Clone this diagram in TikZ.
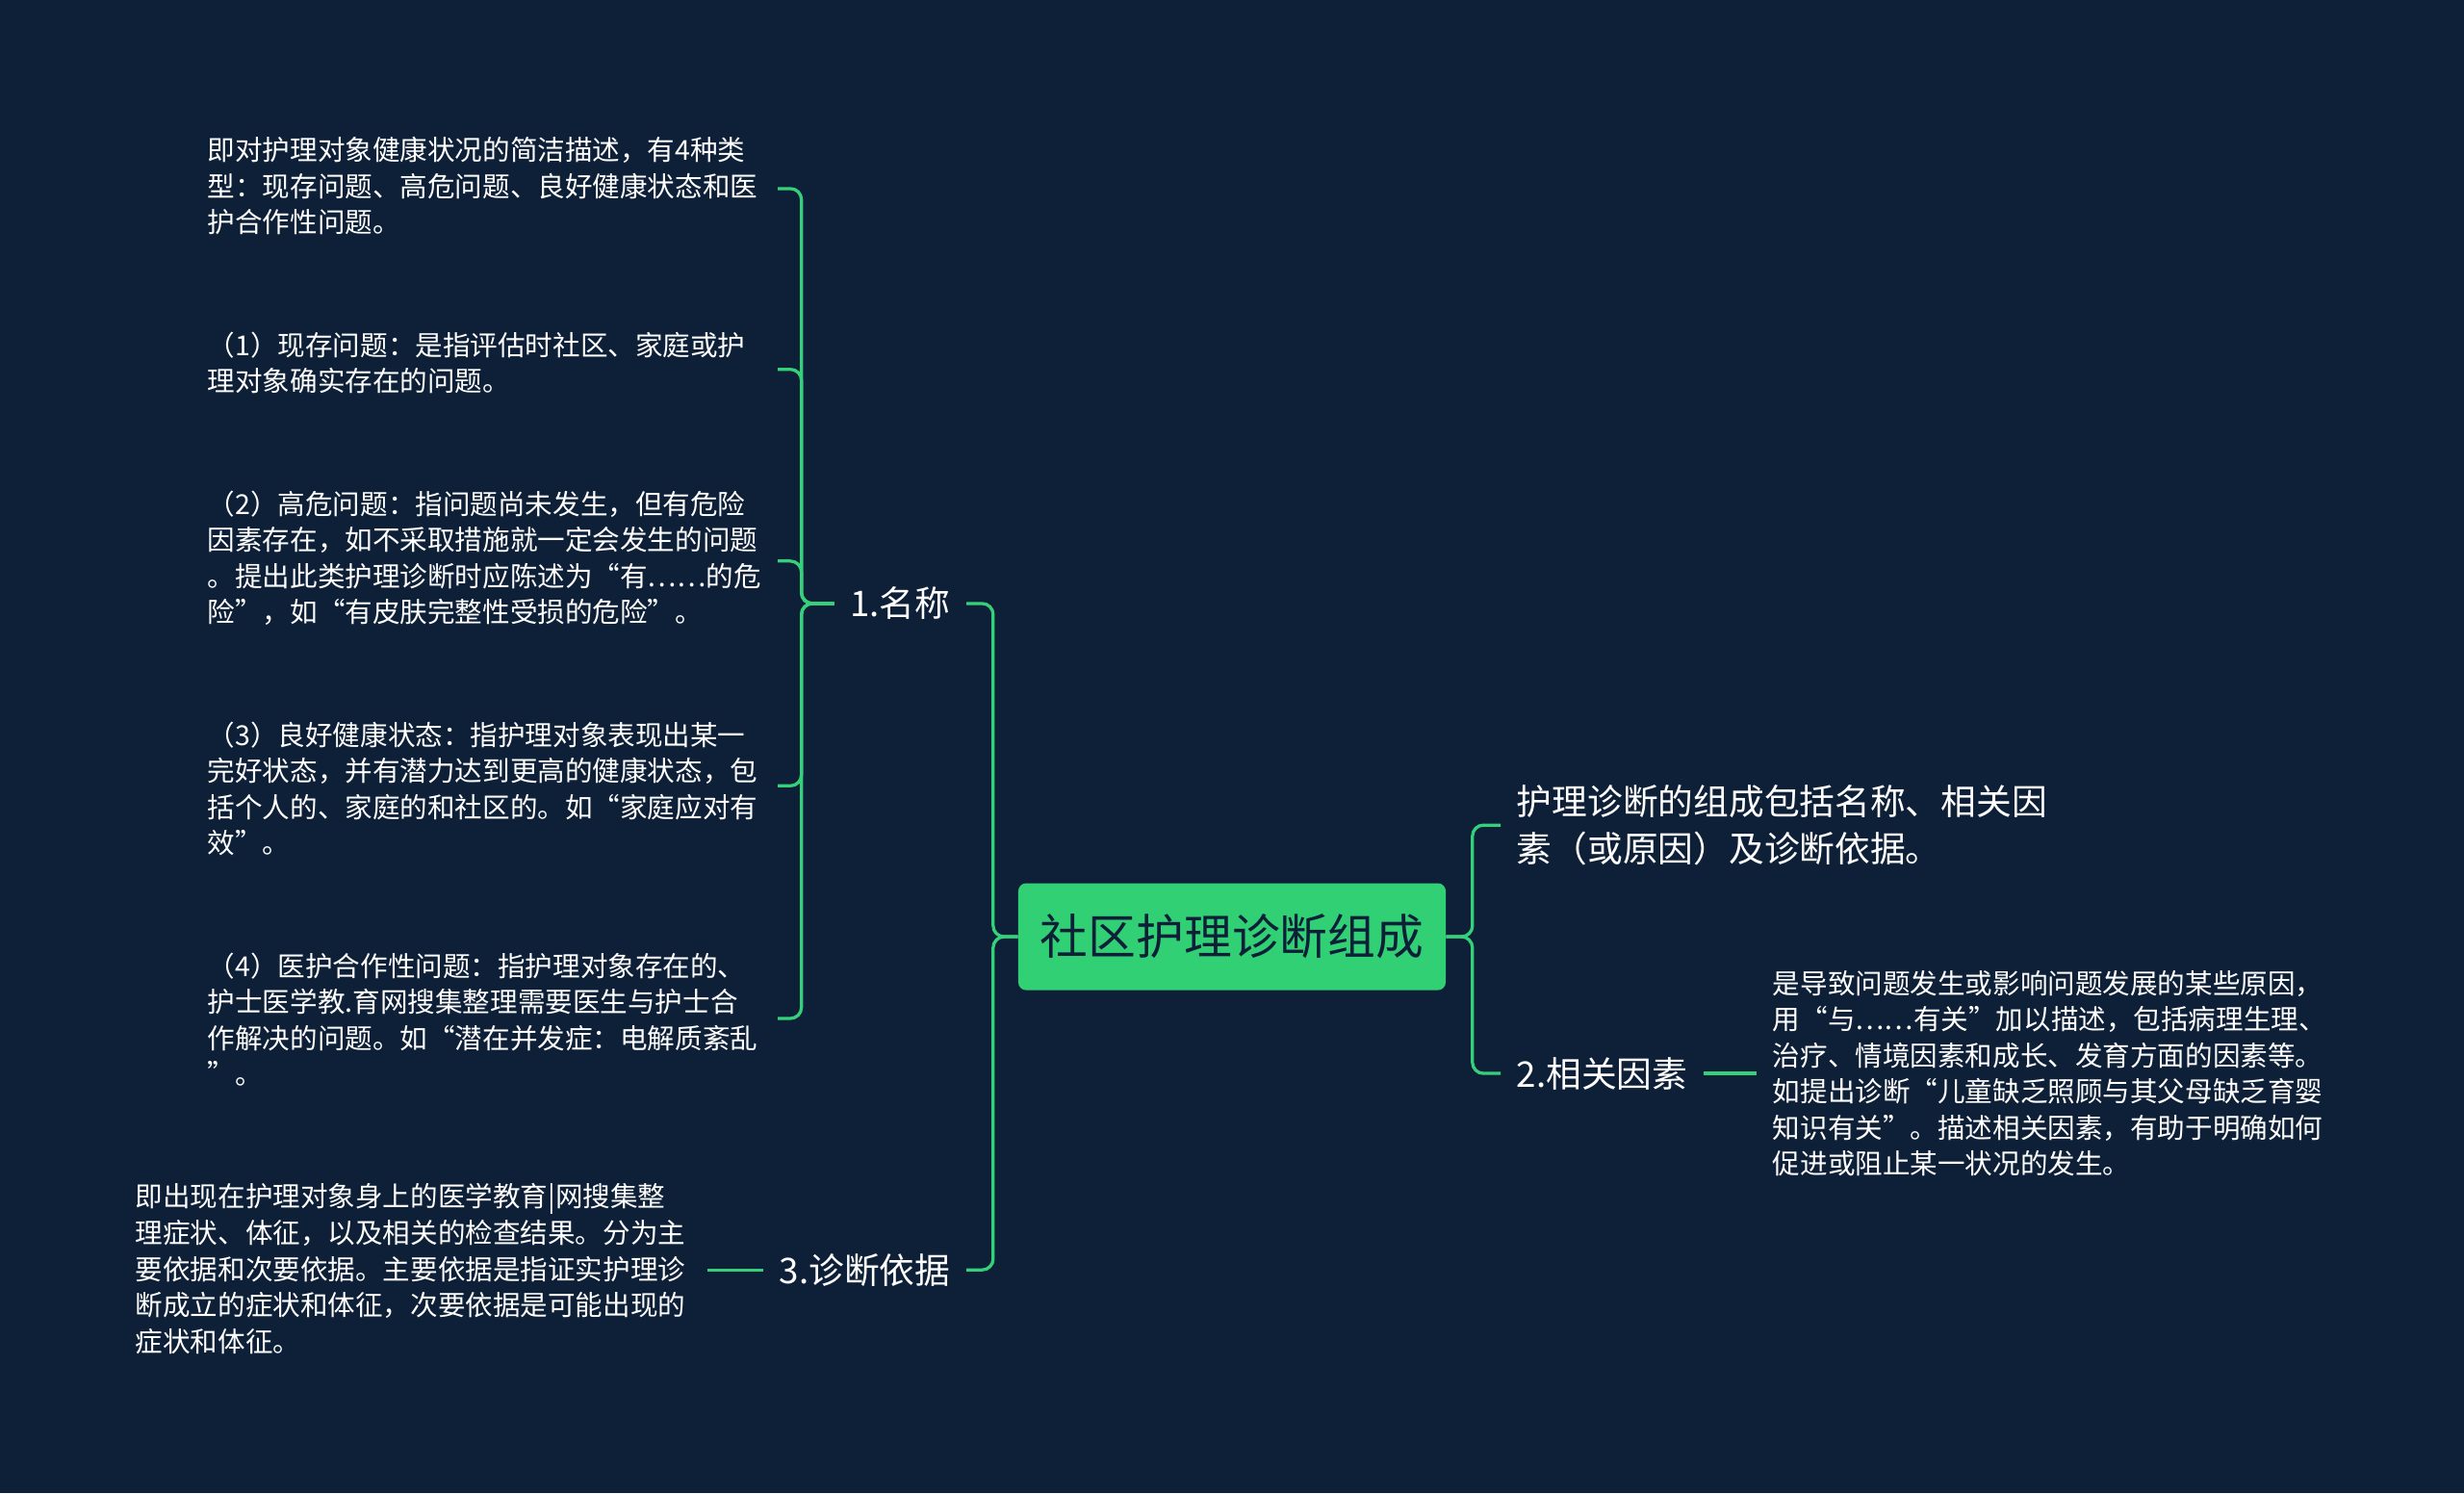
\documentclass[tikz,border=0pt]{standalone}
\usepackage{fontspec}
\setmainfont{Noto Sans CJK SC}
\begin{document}
\begin{tikzpicture}[x=1pt,y=-1pt,
  ln/.style={draw=lc,line width=2pt,rounded corners=7pt},
  small/.style={text=white,anchor=north west,inner sep=0pt,align=left,font=\fontsize{17.5}{23}\selectfont},
  big/.style={text=white,inner ysep=0pt,inner xsep=10pt,align=left,font=\fontsize{22.5}{30}\selectfont}]
\definecolor{bgc}{HTML}{0E2038}
\definecolor{lc}{HTML}{35D07A}
\definecolor{ctr}{HTML}{31D075}
\fill[bgc] (0,0) rectangle (1568,950);
\useasboundingbox (0,0) rectangle (1568,950);
\node[fill=ctr,rounded corners=5pt,minimum width=272pt,minimum height=68pt,inner sep=0pt,text=bgc,font=\fontsize{30.5}{32}\selectfont] (c) at (784,596) {社区护理诊断组成};
% right
\node[big,anchor=west] (r1) at (955,525) {护理诊断的组成包括名称、相关因\\素（或原因）及诊断依据。};
\node[big,anchor=west] (r2) at (955,683) {2.相关因素};
\node[small,anchor=west] (r2d) at (1128,683) {是导致问题发生或影响问题发展的某些原因，\\用“与……有关”加以描述，包括病理生理、\\治疗、情境因素和成长、发育方面的因素等。\\如提出诊断“儿童缺乏照顾与其父母缺乏育婴\\知识有关”。描述相关因素，有助于明确如何\\促进或阻止某一状况的发生。};
\draw[ln] (c.east) -- (937,596) |- (r1.west);
\draw[ln] (c.east) -- (937,596) |- (r2.west);
\draw[ln] (r2.east) -- (1118,683);
% left
\node[big,anchor=east] (l1) at (615,384) {1.名称};
\node[big,anchor=east] (l3) at (615,808) {3.诊断依据};
\draw[ln] (c.west) -- (632,596) |- (l1.east);
\draw[ln] (c.west) -- (632,596) |- (l3.east);
\node[small] (a1) at (132,87) {即对护理对象健康状况的简洁描述，有4种类\\型：现存问题、高危问题、良好健康状态和医\\护合作性问题。};
\node[small] (a2) at (132,211) {（1）现存问题：是指评估时社区、家庭或护\\理对象确实存在的问题。};
\node[small] (a3) at (132,312) {（2）高危问题：指问题尚未发生，但有危险\\因素存在，如不采取措施就一定会发生的问题\\。提出此类护理诊断时应陈述为“有……的危\\险”，如“有皮肤完整性受损的危险”。};
\node[small] (a4) at (132,459) {（3）良好健康状态：指护理对象表现出某一\\完好状态，并有潜力达到更高的健康状态，包\\括个人的、家庭的和社区的。如“家庭应对有\\效”。};
\node[small] (a5) at (132,606) {（4）医护合作性问题：指护理对象存在的、\\护士医学教.育网搜集整理需要医生与护士合\\作解决的问题。如“潜在并发症：电解质紊乱\\”。};
\foreach \n/\y in {a1/120,a2/235,a3/357,a4/500,a5/648}
  \draw[ln] (l1.west) -- (510,384) |- (495,\y);
\node[small] (b1) at (86,753) {即出现在护理对象身上的医学教育|网搜集整\\理症状、体征，以及相关的检查结果。分为主\\要依据和次要依据。主要依据是指证实护理诊\\断成立的症状和体征，次要依据是可能出现的\\症状和体征。};
\draw[ln] (l3.west) -- (450,808);
\end{tikzpicture}
\end{document}
